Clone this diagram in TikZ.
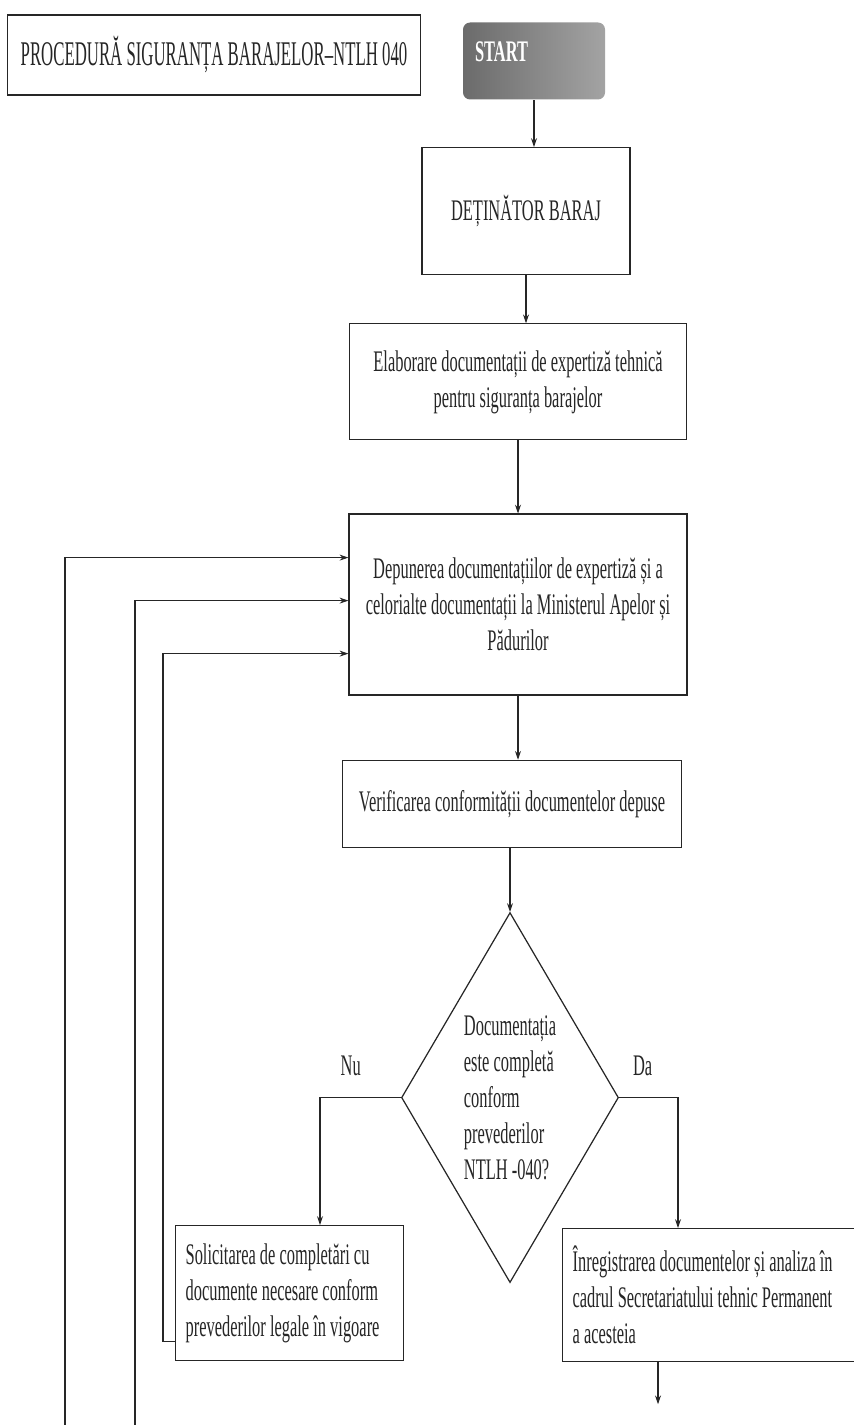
\documentclass[tikz,border=0pt]{standalone}
\usepackage{fontspec}
\setmainfont{Liberation Serif}[FakeStretch=0.55]
\newfontfamily\titlefont{Liberation Serif}[FakeStretch=0.485]
\usetikzlibrary{positioning, shapes.geometric, arrows.meta}
\definecolor{ink}{rgb}{0.15,0.15,0.15}
\newcommand{\boxfont}{\fontsize{17}{20.5}\selectfont}
\tikzset{
    ->, % Every connector ends in an arrow
    >={Stealth[length=5pt, width=3.4pt]}, % Small filled heads
    box/.style={draw=ink, line width=0.7pt, fill=white, align=center, font=\boxfont}, % Process steps
    sidebox/.style={box, anchor=north west, align=flush left, inner xsep=0.2cm}, % Steps under the decision
    decision/.style={diamond, draw=ink, line width=0.7pt, aspect=0.586, inner sep=1pt, align=left, font=\boxfont},
    startbox/.style={rounded corners=4pt, left color=black!58, right color=black!36, minimum width=2.84cm, minimum height=1.54cm},
    answer/.style={font=\boxfont, above=0.3cm}, % Nu / Da
}

\begin{document}
\begin{tikzpicture}[line width=0.6pt, color=ink]
    \useasboundingbox (0,0) rectangle (17.06,-28.5);

    \node[box, font=\titlefont\fontsize{19.7}{23}\selectfont, minimum width=8.26cm, minimum height=1.6cm] (title) at (4.28,-1.10) {PROCEDURĂ SIGURANȚA BARAJELOR–NTLH 040};
    \node[startbox, label={[text=white, font=\boxfont\bfseries, xshift=-0.65cm, yshift=0.18cm]center:START}] (start) at (10.68,-1.22) {};

    \node[box, minimum width=4.16cm, minimum height=2.54cm] (det) [below=0.94cm of start, xshift=-0.16cm] {DEȚINĂTOR BARAJ};
    \node[box, minimum width=6.74cm, minimum height=2.32cm] (elab) [below=0.96cm of det, xshift=-0.16cm] {Elaborare documentații de expertiză tehnică\\pentru siguranța barajelor};
    \node[box, minimum width=6.76cm, minimum height=3.62cm] (dep) [below=1.46cm of elab] {Depunerea documentațiilor de expertiză și a\\celorialte documentații la Ministerul Apelor și\\Pădurilor};
    \node[box, minimum width=6.78cm, minimum height=1.74cm] (ver) [below=1.28cm of dep, xshift=-0.12cm] {Verificarea conformității documentelor depuse};
    \node[decision, minimum width=4.34cm, minimum height=7.4cm] (dec) [below=1.28cm of ver, xshift=-0.04cm] {Documentația\\este completă\\conform\\prevederilor\\NTLH -040?};
    \node[sidebox, text width=4.16cm, minimum height=2.7cm] (sol) at (3.50,-24.50) {Solicitarea de completări cu\\documente necesare conform\\prevederilor legale în vigoare};
    \node[sidebox, text width=5.96cm, minimum height=2.66cm] (reg) at (11.24,-24.56) {Înregistrarea documentelor și analiza în\\cadrul Secretariatului tehnic Permanent\\a acesteia};

    \coordinate (regend) at ([xshift=1.92cm, yshift=-0.84cm]reg.south west);
    \coordinate (outerend) at (1.30,-28.5);
    \coordinate (middleend) at (2.70,-28.5);

    \path
        (start) edge (start |- det.north)
        (det) edge (det |- elab.north)
        (elab) edge (elab |- dep.north)
        (dep) edge (dep |- ver.north)
        (ver.south -| dec.north) edge (dec.north)
        ([xshift=1.92cm]reg.south west) edge (regend);

    \draw (dec.west) -| node[answer, pos=0.31] {Nu} ([xshift=2.90cm]sol.north west);
    \draw (dec.east) -| node[answer, pos=0.20] {Da} ([xshift=2.32cm]reg.north west);

    % back to the submission step
    \draw (outerend) |- ([yshift=0.94cm]dep.west);
    \draw (middleend) |- ([yshift=0.08cm]dep.west);
    \draw ([yshift=-0.96cm]sol.west) -- ++(-0.24,0) |- ([yshift=-0.98cm]dep.west);
\end{tikzpicture}
\end{document}
